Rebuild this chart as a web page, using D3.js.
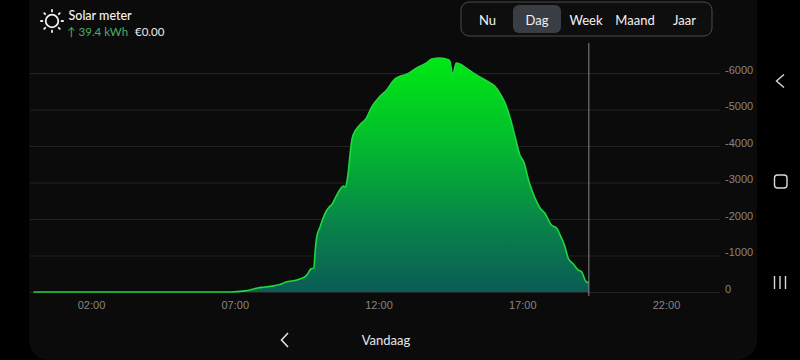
<!DOCTYPE html>
<html>
<head>
<meta charset="utf-8">
<script src="https://cdn.jsdelivr.net/npm/d3@7"></script>
<style>
  html, body { margin: 0; background: #000; }
  svg { display: block; font-family: Lato, sans-serif; }
</style>
</head>
<body>
<svg id="chart" width="800" height="360"></svg>
<script>
// minutes since midnight
const minutes = [0, 410, 441, 452, 468, 483, 514, 531, 539, 556, 569, 579, 585, 588, 591, 598, 608, 617, 622, 633, 642, 647, 650, 654, 657, 661, 664, 667, 681, 695, 706, 720, 737, 754, 765, 779, 798, 821, 831, 848, 866, 869, 875, 882, 890, 907, 925, 946, 963, 974, 984, 994, 1005, 1015, 1024, 1033, 1040, 1050, 1057, 1067, 1081, 1092, 1099, 1108, 1116, 1127, 1137, 1144, 1151, 1155, 1159];
const watts = [0, 0, -30, -55, -110, -135, -205, -290, -300, -355, -440, -630, -660, -1150, -1500, -1780, -2140, -2330, -2385, -2660, -2850, -2905, -2870, -3015, -3290, -3810, -4135, -4300, -4575, -4770, -5070, -5315, -5535, -5835, -5910, -5965, -6125, -6285, -6385, -6410, -6365, -6320, -5950, -6275, -6245, -6100, -5940, -5780, -5635, -5425, -5180, -4800, -4255, -3755, -3535, -3070, -2795, -2475, -2300, -2165, -1835, -1745, -1560, -1290, -925, -760, -600, -555, -330, -265, -265];
const yTicks = [0, -1000, -2000, -3000, -4000, -5000, -6000];
const xTicks = [120, 420, 720, 1020, 1320];
const xLabels = ["02:00", "07:00", "12:00", "17:00", "22:00"];
const periods = ["Nu", "Dag", "Week", "Maand", "Jaar"];
const periodX = [487.5, 537, 586, 635, 684.5];
const cursorMinute = 1159;

const points = minutes.map((m, i) => [m, watts[i]]);
const svg = d3.select("#chart");

// app panel on the black screen
svg.append("rect").attr("width", 800).attr("height", 360).attr("fill", "#000");
svg.append("rect")
    .attr("x", 29).attr("y", -20).attr("width", 728).attr("height", 380)
    .attr("rx", 20).attr("fill", "#0b0b0b");

const x = d3.scaleLinear().domain([0, 1440]).range([33.5, 723.5]);
const y = d3.scaleLinear().domain([0, -6000]).range([292, 73]);

// grid and value labels
const yAxis = svg.append("g")
    .attr("transform", "translate(720,0)")
    .call(d3.axisRight(y).tickValues(yTicks).tickSize(-690).tickPadding(5).tickFormat(d => d));
yAxis.select(".domain").remove();
yAxis.selectAll("line").attr("stroke", "#232323");
yAxis.selectAll("text").attr("fill", "#858585").attr("font-size", 11).attr("dy", "0.03em");

const xAxis = svg.append("g")
    .attr("transform", "translate(0,292)")
    .call(d3.axisBottom(x).tickValues(xTicks).tickSize(0).tickPadding(9).tickFormat((d, i) => xLabels[i]));
xAxis.select(".domain").remove();
xAxis.selectAll("text").attr("fill", "#858585").attr("font-size", 11);

const defs = svg.append("defs");
const grad = defs.append("linearGradient")
    .attr("id", "solar").attr("gradientUnits", "userSpaceOnUse")
    .attr("x1", 0).attr("x2", 0).attr("y1", y(-6400)).attr("y2", y(0));
grad.append("stop").attr("offset", "0").attr("stop-color", "#00e814");
grad.append("stop").attr("offset", "0.35").attr("stop-color", "#03bd2c");
grad.append("stop").attr("offset", "0.7").attr("stop-color", "#08854a");
grad.append("stop").attr("offset", "1").attr("stop-color", "#0b5c55");

const area = d3.area().x(d => x(d[0])).y0(y(0)).y1(d => y(d[1])).curve(d3.curveMonotoneX);
const line = d3.line().x(d => x(d[0])).y(d => y(d[1])).curve(d3.curveMonotoneX);

svg.append("path").datum(points).attr("d", area).attr("fill", "url(#solar)");
svg.append("path").datum(points).attr("d", line)
    .attr("fill", "none").attr("stroke", "#1fd83c").attr("stroke-width", 1.6);

// current time cursor
svg.append("line")
    .attr("x1", x(cursorMinute)).attr("x2", x(cursorMinute))
    .attr("y1", 43).attr("y2", 296)
    .attr("stroke", "#8a8a8a").attr("stroke-width", 1);

// header: sun icon and totals
const sun = svg.append("g").attr("transform", "translate(52,21)")
    .attr("stroke", "#f2f2f2").attr("fill", "none").attr("stroke-linecap", "round");
sun.append("circle").attr("r", 6.3).attr("stroke-width", 1.8);
d3.range(8).forEach(i => {
    const a = i * Math.PI / 4;
    sun.append("line")
        .attr("x1", 9.6 * Math.cos(a)).attr("y1", 9.6 * Math.sin(a))
        .attr("x2", 11 * Math.cos(a)).attr("y2", 11 * Math.sin(a))
        .attr("stroke-width", 1.8);
});
svg.append("text").attr("x", 68.5).attr("y", 20).attr("fill", "#f2f2f2")
    .attr("font-size", 12.5).attr("font-weight", 500).text("Solar meter");
svg.append("text").attr("x", 67).attr("y", 36).attr("fill", "#4caf6a")
    .attr("font-size", 11.5).text("↑ 39.4 kWh");
svg.append("text").attr("x", 135).attr("y", 36).attr("fill", "#ededed")
    .attr("font-size", 11.5).text("€0.00");

// period switch
svg.append("rect")
    .attr("x", 461).attr("y", 2).attr("width", 251).attr("height", 34).attr("rx", 8)
    .attr("fill", "#0e0e0e").attr("stroke", "#4a4a4a").attr("stroke-width", 1);
svg.append("rect")
    .attr("x", 513).attr("y", 5).attr("width", 48).attr("height", 28).attr("rx", 6)
    .attr("fill", "#3a3d43");
svg.selectAll(".period").data(periods).join("text")
    .attr("class", "period")
    .attr("x", (d, i) => periodX[i]).attr("y", 24.5)
    .attr("text-anchor", "middle").attr("fill", "#f2f2f2").attr("font-size", 13)
    .text(d => d);

// bottom navigation
svg.append("path").attr("d", "M288,333 L281.5,340 L288,347")
    .attr("fill", "none").attr("stroke", "#e8e8e8").attr("stroke-width", 1.5);
svg.append("text").attr("x", 386).attr("y", 344.5).attr("text-anchor", "middle")
    .attr("fill", "#e8e8e8").attr("font-size", 13).text("Vandaag");

// phone buttons on the right
const phone = svg.append("g").attr("fill", "none").attr("stroke", "#d8d8d8").attr("stroke-width", 1.4);
phone.append("path").attr("d", "M784,74.5 L776.5,81 L784,87.5");
phone.append("rect").attr("x", 774.5).attr("y", 175).attr("width", 12.5).attr("height", 13).attr("rx", 3);
[774.5, 780, 785.5].forEach(px => {
    phone.append("line").attr("x1", px).attr("x2", px).attr("y1", 276).attr("y2", 289);
});
</script>
</body>
</html>
